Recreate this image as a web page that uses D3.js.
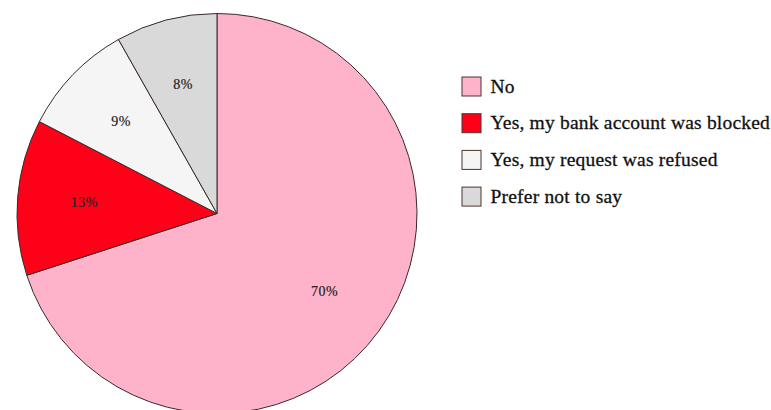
<!DOCTYPE html>
<html><head><meta charset="utf-8">
<script src="https://cdn.jsdelivr.net/npm/d3@7"></script>
<style>body{margin:0;background:#fff}svg{display:block}</style>
</head><body>
<svg id="c" width="771" height="410"></svg>
<script>
const categories = ["No", "Yes, my bank account was blocked", "Yes, my request was refused", "Prefer not to say"];
const values = [70.0, 12.6, 9.2, 8.2];
const labels = ["70%", "13%", "9%", "8%"];
const colors = ["#FFB3CB", "#FF0019", "#F5F5F5", "#D9D9D9"];

const svg = d3.select("#c");
const cx = 217, cy = 213.5, R = 200;
const pie = d3.pie().sort(null).value(d => d)(values);
const arc = d3.arc().innerRadius(0).outerRadius(R);
const labelArc = d3.arc().innerRadius(133).outerRadius(133);
const g = svg.append("g").attr("transform", `translate(${cx},${cy})`);
g.selectAll("path").data(pie).join("path")
  .attr("d", arc).attr("fill", (d,i) => colors[i])
  .attr("stroke", "#3a2a2a").attr("stroke-width", 1);
g.selectAll("text").data(pie).join("text")
  .attr("transform", d => `translate(${labelArc.centroid(d)})`)
  .attr("text-anchor", "middle").attr("dominant-baseline", "central")
  .attr("font-family", "Liberation Serif").attr("font-size", 14)
  .attr("letter-spacing", 0.5)
  .attr("fill", "#222").attr("stroke", "#222").attr("stroke-width", 0.2)
  .text((d,i) => labels[i]);

const leg = svg.append("g");
const rows = leg.selectAll("g").data(categories).join("g")
  .attr("transform", (d,i) => `translate(462,${77 + i*36.7})`);
rows.append("rect").attr("width", 19).attr("height", 19)
  .attr("fill", (d,i) => colors[i]).attr("stroke", "#4a3530").attr("stroke-width", 1);
rows.append("text").attr("x", 28.5).attr("y", 15.5)
  .attr("font-family", "Liberation Serif").attr("font-size", 19.5)
  .attr("letter-spacing", 0.2)
  .attr("fill", "#111").attr("stroke", "#111").attr("stroke-width", 0.3)
  .text(d => d);
</script>
</body></html>
